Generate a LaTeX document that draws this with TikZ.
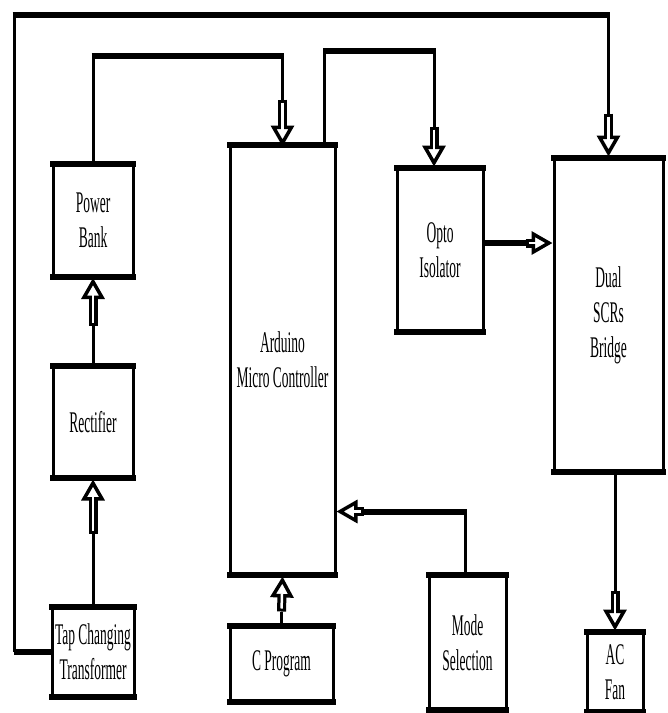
\documentclass[tikz,border=0pt]{standalone}
\usepackage{fontspec}
\setmainfont[FakeStretch=0.45]{Liberation Serif}
\usetikzlibrary{arrows.meta,calc}

\tikzset{
  blk/.style={draw, line width=3pt, inner sep=0pt, align=center,
    font=\fontsize{30}{35}\selectfont},
  wire/.style={line width=3pt},
  bus/.style={line width=6pt},
  sig/.style={line width=9pt,
    -{Triangle[fill=white, length=21pt, width=23pt, line width=3.5pt]},
    postaction={draw=white, line width=2.5pt, -, shorten >=17pt, shorten <=3pt}},
}

\begin{document}
\begin{tikzpicture}[x=1pt,y=-1pt]
  \useasboundingbox (0,0) rectangle (668,713);

  % boxes
  \node[blk, minimum width=80pt, minimum height=113pt] (pwr) at (93,220) {Power\\Bank};
  \node[blk, minimum width=80pt, minimum height=112pt] (rect) at (93,422) {Rectifier};
  \node[blk, minimum width=82pt, minimum height=90pt] (tap) at (93,652) {Tap Changing\\Transformer};
  \node[blk, minimum width=105pt, minimum height=430pt] (ard) at (282.5,360) {Arduino\\Micro Controller};
  \node[blk, minimum width=103pt, minimum height=76pt] (cprog) at (281.5,664) {C Program};
  \node[blk, minimum width=86pt, minimum height=164pt] (opto) at (440,250) {Opto\\Isolator};
  \node[blk, minimum width=77pt, minimum height=135pt] (mode) at (467.5,642.5) {Mode\\Selection};
  \node[blk, minimum width=109pt, minimum height=314pt] (dual) at (608.5,315) {Dual\\SCRs\\Bridge};
  \node[blk, minimum width=56pt, minimum height=80pt] (fan) at (615,672) {AC\\Fan};

  % heavy top and bottom edges
  \foreach \n in {pwr,rect,tap,ard,cprog,opto,mode,dual,fan} {
    \draw[bus] ([xshift=-1.5pt,yshift=-1.5pt]\n.north west) -- ([xshift=1.5pt,yshift=-1.5pt]\n.north east);
    \draw[bus] ([xshift=-1.5pt,yshift=1.5pt]\n.south west) -- ([xshift=1.5pt,yshift=1.5pt]\n.south east);
  }

  \coordinate (top) at (0,15);
  \coordinate (left) at (14,0);

  % outer loop to the bridge
  \coordinate (l1) at (left |- tap.west);
  \coordinate (l2) at (left |- top);
  \coordinate (l3) at (dual.north |- top);
  \coordinate (l4) at ($(dual.north)+(0,-43)$);
  \draw[bus] (tap.west) -- (l1);
  \draw[wire] (l1) -- (l2);
  \draw[bus] ([xshift=-1.5pt]l2) -- ([xshift=1.5pt]l3);
  \draw[wire] (l3) -- (l4);
  \draw[sig] (l4) -- (dual.north);

  % power bank to arduino
  \coordinate (p1) at ($(pwr.north)+(0,-106)$);
  \coordinate (p2) at (ard.north |- p1);
  \coordinate (p3) at ($(ard.north)+(0,-44)$);
  \draw[wire] (pwr.north) -- (p1);
  \draw[bus] ([xshift=-1.5pt]p1) -- ([xshift=1.5pt]p2);
  \draw[wire] (p2) -- (p3);
  \draw[sig] (p3) -- ([yshift=-3pt]ard.north);

  % arduino to opto isolator
  \coordinate (a0) at ($(ard.north east)+(-12,0)$);
  \coordinate (a1) at ($(a0)+(0,-93)$);
  \coordinate (a4) at ($(opto.north)+(-6,0)$);
  \coordinate (a2) at (a4 |- a1);
  \coordinate (a3) at ($(a4)+(0,-40)$);
  \draw[wire] (a0) -- (a1);
  \draw[bus] ([xshift=-1.5pt]a1) -- ([xshift=1.5pt]a2);
  \draw[wire] (a2) -- (a3);
  \draw[sig] (a3) -- (a4);

  % opto isolator to bridge
  \coordinate (o0) at ($(opto.east)+(0,-7)$);
  \coordinate (o1) at ($(dual.west |- o0)+(-27,0)$);
  \draw[bus] (o0) -- (o1);
  \draw[sig] (o1) -- (dual.west |- o0);

  % supply chain
  \coordinate (t1) at ($(tap.north)+(0,-72)$);
  \draw[wire] (tap.north) -- (t1);
  \draw[sig] (t1) -- (rect.south);
  \coordinate (r1) at ($(rect.north)+(0,-39)$);
  \draw[wire] (rect.north) -- (r1);
  \draw[sig] (r1) -- (pwr.south);

  % c program
  \coordinate (c1) at ($(cprog.north)+(0,-13)$);
  \draw[wire] (cprog.north) -- (c1);
  \draw[sig] (c1) -- (ard.south);

  % mode selection
  \coordinate (m1) at ($(mode.north)+(-2.5,-62)$);
  \coordinate (m2) at ($(ard.east |- m1)+(27,0)$);
  \draw[wire] ($(mode.north)+(-2.5,0)$) -- (m1);
  \draw[bus] ([xshift=1.5pt]m1) -- (m2);
  \draw[sig] (m2) -- (ard.east |- m1);

  % bridge to fan
  \coordinate (f0) at (fan.north |- dual.south);
  \coordinate (f1) at ($(fan.north)+(0,-40)$);
  \draw[wire] (f0) -- (f1);
  \draw[sig] (f1) -- (fan.north);
\end{tikzpicture}
\end{document}
